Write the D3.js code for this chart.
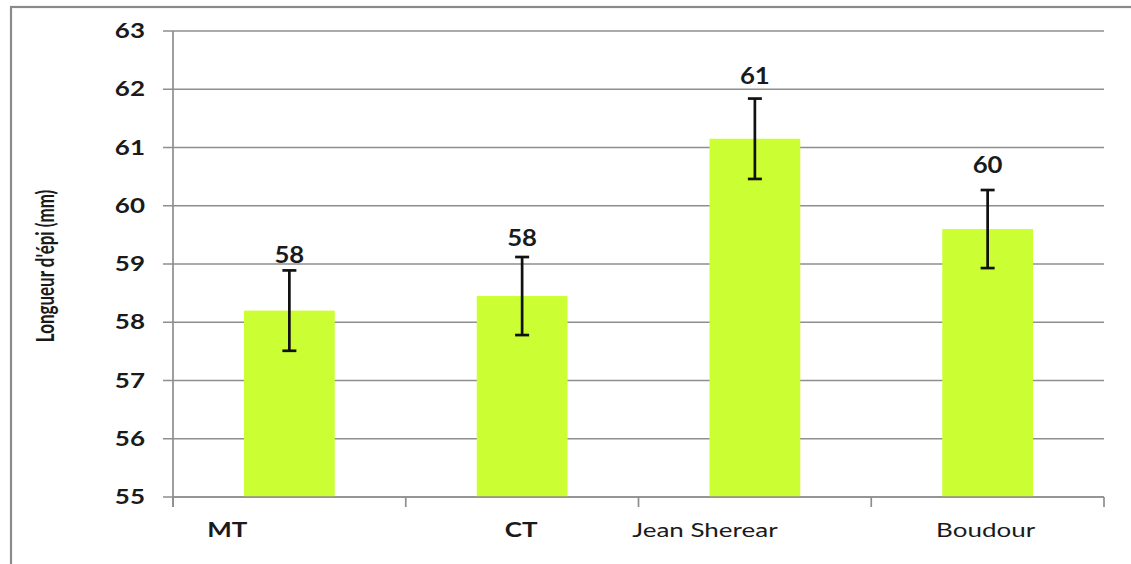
<!DOCTYPE html>
<html>
<head>
<meta charset="utf-8">
<script src="https://cdn.jsdelivr.net/npm/d3@7"></script>
<style>
  html, body { margin: 0; padding: 0; background: #ffffff; }
  svg { display: block; }
  text { font-family: Lato, "Open Sans", sans-serif; fill: #1a1a1a; }
</style>
</head>
<body>
<script>
// Ear length per variety, mean and standard error (mm)
const categories = ["MT", "CT", "Jean Sherear", "Boudour"];
const means = [58.2, 58.45, 61.15, 59.6];
const errors = [0.69, 0.67, 0.69, 0.67];
const yTicks = [55, 56, 57, 58, 59, 60, 61, 62, 63];
const yTitle = "Longueur d'épi (mm)";

// Layout and styling
const W = 1131, H = 564;
const plot = { left: 173, right: 1104, top: 31, bottom: 497 };
const labelNudgeX = [-62, -1, -50, -2];    // category label offsets from bar centre
const labelWeight = [700, 700, 400, 400];
const valueLift = [15, 19, 23, 25];        // value label gap above error cap
const barColor = "#ccff33";
const gridColor = "#8e8e8e";

const svg = d3.select("body").append("svg")
  .attr("width", W).attr("height", H);

// outer frame (runs past the right and bottom edges)
svg.append("rect")
  .attr("x", 11).attr("y", 7)
  .attr("width", W + 40).attr("height", H + 40)
  .attr("fill", "#fff")
  .attr("stroke", "#8a8a8a").attr("stroke-width", 2.2);

const x = d3.scaleBand()
  .domain(categories)
  .range([plot.left, plot.right])
  .paddingInner(0.61)
  .paddingOuter(0.305);

const y = d3.scaleLinear()
  .domain([55, 63])
  .range([plot.bottom, plot.top]);

// horizontal gridlines with outward ticks
svg.append("g").selectAll("line").data(yTicks).join("line")
  .attr("x1", plot.left - 10).attr("x2", plot.right)
  .attr("y1", d => y(d)).attr("y2", d => y(d))
  .attr("stroke", gridColor).attr("stroke-width", 1.7);

// bars
const rows = categories.map((c, i) => ({ c, m: means[i], e: errors[i], i }));
svg.append("g").selectAll("rect").data(rows).join("rect")
  .attr("x", d => x(d.c))
  .attr("y", d => y(d.m))
  .attr("width", x.bandwidth())
  .attr("height", d => y(55) - y(d.m))
  .attr("fill", barColor);

// axis lines and category boundary ticks
const axes = svg.append("g").attr("stroke", gridColor).attr("stroke-width", 1.7);
axes.append("line")
  .attr("x1", plot.left).attr("x2", plot.left)
  .attr("y1", y(63)).attr("y2", y(55) + 10);
axes.append("line")
  .attr("x1", plot.left).attr("x2", plot.right)
  .attr("y1", y(55)).attr("y2", y(55));
axes.selectAll("line.bt").data(d3.range(categories.length + 1)).join("line")
  .attr("class", "bt")
  .attr("x1", i => x.range()[0] + i * x.step())
  .attr("x2", i => x.range()[0] + i * x.step())
  .attr("y1", y(55)).attr("y2", y(55) + 10);

// error bars
const eb = svg.append("g").attr("stroke", "#111").attr("stroke-width", 2.7);
rows.forEach(d => {
  const cx = x(d.c) + x.bandwidth() / 2;
  eb.append("line").attr("x1", cx).attr("x2", cx)
    .attr("y1", y(d.m + d.e)).attr("y2", y(d.m - d.e));
  [d.m + d.e, d.m - d.e].forEach(v => {
    eb.append("line").attr("x1", cx - 7).attr("x2", cx + 7)
      .attr("y1", y(v)).attr("y2", y(v));
  });
});

// helper: horizontally stretched text placed at (px, py)
function stretchedText(g, px, py, str, opts) {
  return g.append("text")
    .attr("transform", `translate(${px},${py}) scale(${opts.sx},1)` + (opts.rotate ? ` rotate(${opts.rotate})` : ""))
    .attr("text-anchor", opts.anchor || "middle")
    .attr("dy", "0.35em")
    .attr("font-size", opts.size)
    .attr("font-weight", opts.weight || 400)
    .text(str);
}

const txt = svg.append("g");

// value labels (rounded means)
const fmt = d3.format(".0f");
rows.forEach(d => {
  const cx = x(d.c) + x.bandwidth() / 2;
  stretchedText(txt, cx, y(d.m + d.e) - valueLift[d.i], fmt(d.m), { size: 23, weight: 700, sx: 1.12 });
});

// y tick labels
yTicks.forEach(t => {
  stretchedText(txt, plot.left - 28, y(t), String(t), { size: 20, weight: 700, anchor: "end", sx: 1.3 });
});

// category labels
rows.forEach(d => {
  const cx = x(d.c) + x.bandwidth() / 2 + labelNudgeX[d.i];
  stretchedText(txt, cx, 530, d.c, { size: 20, weight: labelWeight[d.i], sx: 1.3 });
});

// y axis title
stretchedText(txt, 45, (plot.top + plot.bottom) / 2 + 2, yTitle, { size: 17, weight: 700, rotate: -90, sx: 1.5 });
</script>
</body>
</html>
